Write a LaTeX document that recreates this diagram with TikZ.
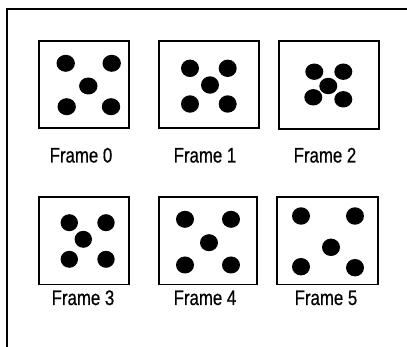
\documentclass[tikz,border=0pt]{standalone}
\usepackage{fontspec}
\setmainfont{Liberation Sans}[FakeStretch=0.8,FakeBold=0.6]
\begin{document}
\begin{tikzpicture}[x=1pt,y=-1pt,
  framebox/.style={draw=black,line width=1.8pt},
  dot/.style={fill=black},
  lbl/.style={font=\fontsize{21}{25}\selectfont,inner sep=0pt,anchor=base}]
\useasboundingbox (0,0) rectangle (407,347);
% outer partial border
\draw[line width=1.2pt] (7,347) -- (7,9) -- (407,9);
% row 1 boxes
\draw[framebox] (39.3,40.7) rectangle (129.3,128.3);
\draw[framebox] (158.7,40.7) rectangle (258.7,128.3);
\draw[framebox] (278.7,40.7) rectangle (379,129);
% row 2 boxes
\draw[framebox] (39.3,197.3) rectangle (129.3,284.5);
\draw[framebox] (158.7,197.3) rectangle (256.7,284.5);
\draw[framebox] (277.3,197.3) rectangle (378.3,284.5);
% dots frame 0
\foreach \p in {(65.7,63.3),(111.7,63.3),(88.3,86),(66.7,106.7),(111,106.7)}
  \fill[dot] \p ellipse [x radius=9.2pt,y radius=8.5pt];
% dots frame 1
\foreach \p in {(190,68.3),(227.7,68.3),(210,85),(190,104),(227.7,104)}
  \fill[dot] \p ellipse [x radius=9pt,y radius=8.7pt];
% dots frame 2
\foreach \p in {(314.3,71.7),(343.3,71.7),(328.3,86),(313.3,97.3),(343.3,99.3)}
  \fill[dot] \p ellipse [x radius=9pt,y radius=8.2pt];
% dots frame 3
\foreach \p in {(69.3,222.7),(106,222.7),(83.3,239.3),(69.3,259.3),(106,259.3)}
  \fill[dot] \p ellipse [x radius=8.7pt,y radius=8.5pt];
% dots frame 4
\foreach \p in {(185,219.3),(231,219.3),(209,242.7),(185,265),(231,265)}
  \fill[dot] \p ellipse [x radius=9pt,y radius=8.5pt];
% dots frame 5
\foreach \p in {(301,216),(355,216),(331,247.3),(301,266.7),(355,267.7)}
  \fill[dot] \p ellipse [x radius=9pt,y radius=8.7pt];
% labels
\node[lbl] (l0) at (81,162.5) {Frame 0};
\node[lbl] (l1) at (205,162.5) {Frame 1};
\node[lbl] (l2) at (325,162.5) {Frame 2};
\node[lbl] (l3) at (83,305) {Frame 3};
\node[lbl] (l4) at (205,305) {Frame 4};
\node[lbl] (l5) at (326,305) {Frame 5};
\end{tikzpicture}
\end{document}
